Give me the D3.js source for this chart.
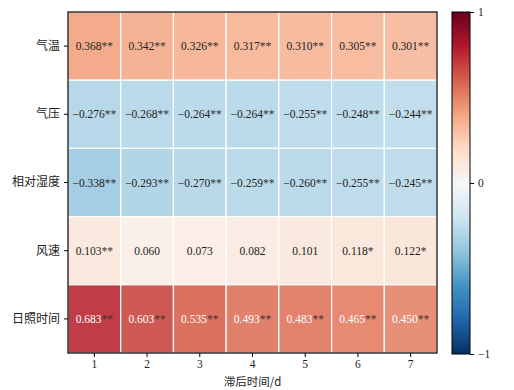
<!DOCTYPE html>
<html><head><meta charset="utf-8">
<script src="https://cdn.jsdelivr.net/npm/d3@7"></script>
<style>body{margin:0;background:#fff}svg{display:block}</style>
</head><body>
<svg id="c" width="514" height="390"></svg>
<script>
const rows = ["气温","气压","相对湿度","风速","日照时间"];
const cols = ["1","2","3","4","5","6","7"];
const vals = [
 [0.368,0.342,0.326,0.317,0.310,0.305,0.301],
 [-0.276,-0.268,-0.264,-0.264,-0.255,-0.248,-0.244],
 [-0.338,-0.293,-0.270,-0.259,-0.260,-0.255,-0.245],
 [0.103,0.060,0.073,0.082,0.101,0.118,0.122],
 [0.683,0.603,0.535,0.493,0.483,0.465,0.450]
];
const stars = [
 ["**","**","**","**","**","**","**"],
 ["**","**","**","**","**","**","**"],
 ["**","**","**","**","**","**","**"],
 ["**","","","","","*","*"],
 ["**","**","**","**","**","**","**"]
];
const cbTicks = [-1,0,1];
const xTitle = "滞后时间/d";
const palette = ["#053061","#2166ac","#4393c3","#92c5de","#d1e5f0","#f7f7f7","#fddbc7","#f4a582","#d6604d","#b2182b","#67001f"];

const svg = d3.select("#c");
const L=68,R=437,T=12,B=353;
const x = d3.scaleBand().domain(cols).range([L,R]);
const y = d3.scaleBand().domain(rows).range([T,B]);
const color = d3.scaleLinear().domain(d3.range(11).map(i=>-1+i*0.2)).range(palette).interpolate(d3.interpolateRgb).clamp(true);
const cellColor = v => color(v/0.9);
const serif = "'Liberation Serif','Times New Roman',serif";
const cjk = "'Noto Sans CJK SC',sans-serif";

const cells=[];
rows.forEach((r,i)=>cols.forEach((c,j)=>cells.push({r,c,v:vals[i][j],s:stars[i][j]})));

svg.append("g").selectAll("rect").data(cells).join("rect")
 .attr("x",d=>x(d.c)).attr("y",d=>y(d.r))
 .attr("width",x.bandwidth()).attr("height",y.bandwidth())
 .attr("fill",d=>cellColor(d.v)).attr("fill-opacity",0.9)
 .attr("stroke","#fff").attr("stroke-width",1.2);

const fmt = v => (v<0?"−":"") + Math.abs(v).toFixed(3);
const t = svg.append("g").selectAll("text").data(cells).join("text")
 .attr("x",d=>x(d.c)+x.bandwidth()/2).attr("y",d=>y(d.r)+y.bandwidth()/2)
 .attr("text-anchor","middle").attr("dominant-baseline","central")
 .attr("font-family",serif).attr("font-size",11.5);
t.append("tspan").text(d=>fmt(d.v)).attr("fill",d=>d.v>0.4?"#fff":"#222");
t.append("tspan").text(d=>d.s).attr("fill",d=>d.v>0.4?"#4a3030":"#333");

svg.append("rect").attr("x",L).attr("y",T).attr("width",R-L).attr("height",B-T)
 .attr("fill","none").attr("stroke","#000").attr("stroke-width",1.2);

const yAxis = svg.append("g").attr("transform",`translate(${L},0)`)
 .call(d3.axisLeft(y).tickSize(4).tickPadding(4));
yAxis.select(".domain").remove();
yAxis.selectAll("text").attr("font-family",cjk).attr("font-size",12).attr("fill","#222");
const xAxis = svg.append("g").attr("transform",`translate(0,${B})`)
 .call(d3.axisBottom(x).tickSize(4).tickPadding(3));
xAxis.select(".domain").remove();
xAxis.selectAll("text").attr("font-family",serif).attr("font-size",11.5).attr("fill","#222");
svg.append("text").attr("x",(L+R)/2).attr("y",386).attr("text-anchor","middle")
 .attr("font-family",cjk).attr("font-size",11.5).attr("fill","#222").text(xTitle);

// colorbar
const cbX=452,cbW=18,cbT=12,cbB=354;
const defs=svg.append("defs");
const g=defs.append("linearGradient").attr("id","cb").attr("x1",0).attr("y1",1).attr("x2",0).attr("y2",0);
d3.range(0,1.0001,0.05).forEach(p=>g.append("stop").attr("offset",p).attr("stop-color",color(p*2-1)));
svg.append("rect").attr("x",cbX).attr("y",cbT).attr("width",cbW).attr("height",cbB-cbT)
 .attr("fill","url(#cb)").attr("stroke","#000").attr("stroke-width",1);
const cs = d3.scaleLinear().domain([-1,1]).range([cbB,cbT]);
const cAxis = svg.append("g").attr("transform",`translate(${cbX+cbW},0)`)
 .call(d3.axisRight(cs).tickValues(cbTicks).tickSize(4).tickPadding(4).tickFormat(d=>d<0?"−"+Math.abs(d):d));
cAxis.select(".domain").remove();
cAxis.selectAll("text").attr("font-family",serif).attr("font-size",11.5).attr("fill","#222");
</script>
</body></html>
